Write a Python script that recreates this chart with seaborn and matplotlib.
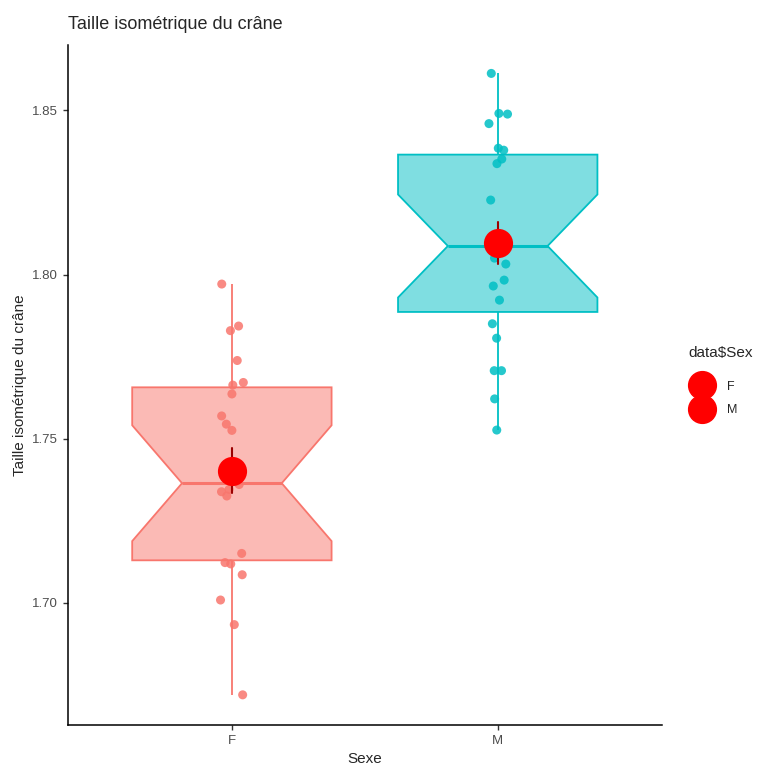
import matplotlib
matplotlib.use("Agg")
import matplotlib.pyplot as plt
from matplotlib.lines import Line2D
from matplotlib.colors import to_rgba
import numpy as np
import pandas as pd
import seaborn as sns

# données
sexes = ["F", "M"]
taille_f = [1.7971, 1.7843, 1.7829, 1.7738, 1.7671, 1.7663, 1.7636, 1.7569,
            1.7544, 1.7525, 1.7368, 1.7360, 1.7345, 1.7338, 1.7325, 1.7150,
            1.7122, 1.7118, 1.7085, 1.7008, 1.6933, 1.6719]
taille_m = [1.8613, 1.8491, 1.8489, 1.8460, 1.8385, 1.8379, 1.8352, 1.8338,
            1.8227, 1.8105, 1.8095, 1.8087, 1.8050, 1.8032, 1.7983, 1.7965,
            1.7922, 1.7850, 1.7806, 1.7707, 1.7707, 1.7621, 1.7526]
colors = {"F": "#F8766D", "M": "#00BFC4"}

data = pd.DataFrame({
    "Sex": ["F"] * len(taille_f) + ["M"] * len(taille_m),
    "Taille": taille_f + taille_m,
})

sns.set_style("white")
plt.rcParams["font.family"] = ["Liberation Sans", "DejaVu Sans"]

fig = plt.figure(figsize=(7.64, 7.66), dpi=100)
ax = fig.add_axes([0.089, 0.0535, 0.777, 0.8875])

# boites a encoches
for sex in sexes:
    sns.boxplot(
        data=data[data.Sex == sex], x="Sex", y="Taille", order=sexes,
        color=colors[sex], linecolor=colors[sex], saturation=1,
        width=0.75, notch=True, showcaps=False, showfliers=False,
        linewidth=1.3, medianprops={"linewidth": 2.2}, ax=ax
    )
    ax.patches[-1].set_facecolor(to_rgba(colors[sex], 0.5))

# points individuels
np.random.seed(7)
sns.stripplot(
    data=data, x="Sex", y="Taille", hue="Sex", palette=colors, order=sexes,
    jitter=0.045, size=6.5, alpha=0.85, linewidth=0, legend=False, ax=ax
)

# moyenne +/- erreur standard
sns.pointplot(
    data=data, x="Sex", y="Taille", hue="Sex", order=sexes,
    palette={"F": "red", "M": "red"}, errorbar="se", linestyle="none",
    marker="o", markersize=21, markeredgewidth=0,
    err_kws={"color": "#9B0000", "linewidth": 1.5, "zorder": 3},
    legend=False, ax=ax
)
for line in ax.lines:
    if line.get_marker() == "o":
        line.set_zorder(4)

ax.set_xlim(-0.6165, 1.6165)
ax.set_ylim(1.6627, 1.8699)
ax.set_yticks([1.70, 1.75, 1.80, 1.85])
ax.set_yticklabels(["1.70", "1.75", "1.80", "1.85"])

ax.set_title("Taille isométrique du crâne", loc="left", fontsize=13, pad=12)
ax.set_xlabel("Sexe", fontsize=11)
ax.set_ylabel("Taille isométrique du crâne", fontsize=11)

sns.despine(ax=ax)
for side in ["left", "bottom"]:
    ax.spines[side].set_color("black")
    ax.spines[side].set_linewidth(1.1)
ax.tick_params(axis="both", which="major", length=3.5, width=1, color="#333333",
               labelsize=9.5, labelcolor="#4D4D4D", left=True, bottom=True)

handles = [Line2D([], [], linestyle="none", marker="o", markersize=20, color="red")
           for _ in sexes]
leg = ax.legend(handles, sexes, title="data$Sex", loc="center left",
                bbox_to_anchor=(1.0, 0.506), frameon=False, fontsize=9,
                title_fontsize=11, labelspacing=0.95, handletextpad=0.9,
                handlelength=2.2, borderaxespad=1.75, alignment="left")
leg._legend_box.sep = 15

fig.savefig("out.png", dpi=100)
